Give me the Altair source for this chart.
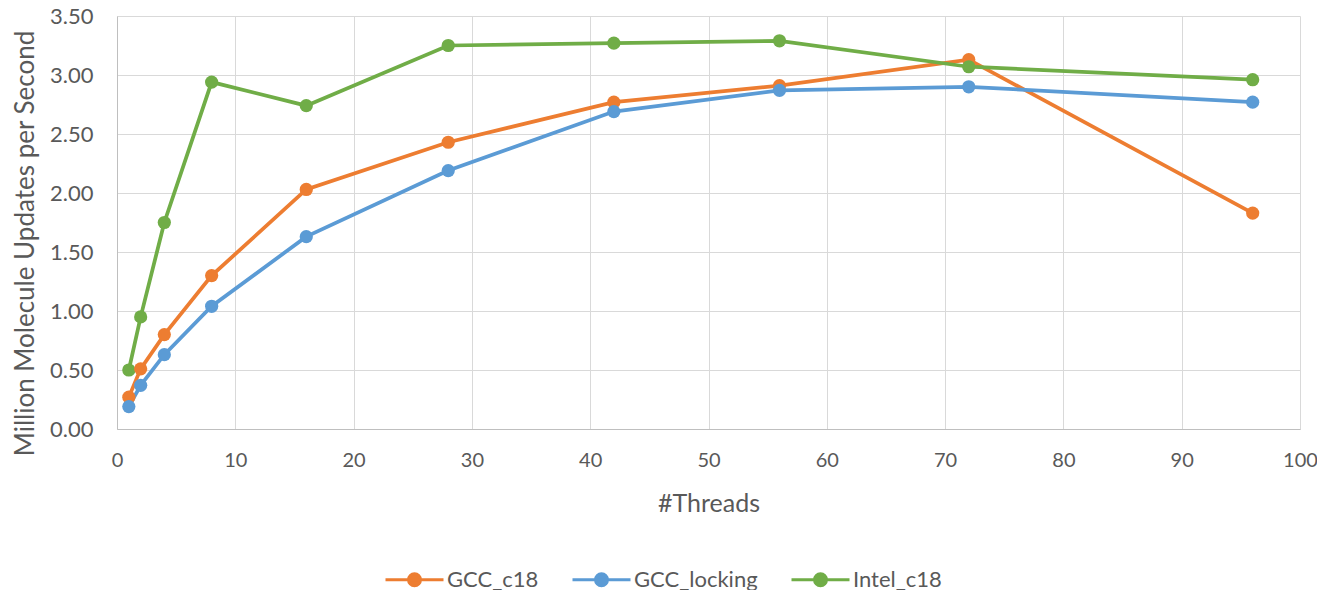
import altair as alt
import pandas as pd

threads = [1, 2, 4, 8, 16, 28, 42, 56, 72, 96]
gcc_c18 = [0.27, 0.51, 0.80, 1.30, 2.03, 2.43, 2.77, 2.91, 3.13, 1.83]
gcc_locking = [0.19, 0.37, 0.63, 1.04, 1.63, 2.19, 2.69, 2.87, 2.90, 2.77]
intel_c18 = [0.50, 0.95, 1.75, 2.94, 2.74, 3.25, 3.27, 3.29, 3.07, 2.96]

series = ["GCC_c18", "GCC_locking", "Intel_c18"]
colors = ["#ED7D31", "#5B9BD5", "#70AD47"]

rows = []
for name, vals in zip(series, [gcc_c18, gcc_locking, intel_c18]):
    for t, v in zip(threads, vals):
        rows.append({"Threads": t, "Value": v, "Series": name})
df = pd.DataFrame(rows)

font = "Lato"
grey = "#595959"

x = alt.X("Threads:Q", title="#Threads",
          scale=alt.Scale(domain=[0, 100], nice=False),
          axis=alt.Axis(values=list(range(0, 101, 10)), labelFontSize=20, titleFontSize=25,
                        labelColor=grey, titleColor=grey, ticks=False, labelPadding=21,
                        labelFlush=False, labelOverlap=False,
                        titlePadding=21, titleFontWeight="normal", domainColor="#bfbfbf",
                        gridColor="#d9d9d9", labelFont=font, titleFont=font))
y = alt.Y("Value:Q", title="Million Molecule Updates per Second",
          scale=alt.Scale(domain=[0, 3.5], nice=False),
          axis=alt.Axis(values=[0, 0.5, 1, 1.5, 2, 2.5, 3, 3.5], format=".2f", labelFontSize=22,
                        titleFontSize=26, labelColor=grey, titleColor=grey, ticks=False,
                        labelFlush=False, labelOverlap=False,
                        labelPadding=24, titleFontWeight="normal", titleX=-84, titleY=227,
                        titleBaseline="alphabetic", titleAngle=270,
                        domainColor="#bfbfbf", gridColor="#d9d9d9", labelFont=font, titleFont=font))
color = alt.Color("Series:N", scale=alt.Scale(domain=series, range=colors),
                  legend=alt.Legend(orient="none", direction="horizontal", title=None,
                                    legendX=267, legendY=533, padding=0,
                                    labelFontSize=22, labelColor=grey, labelFont=font,
                                    symbolType="M-1,0L1,0M-0.207,0a0.207,0.207 0 1,0 0.414,0a0.207,0.207 0 1,0 -0.414,0",
                                    symbolSize=3364, symbolStrokeWidth=3, columnPadding=27,
                                    labelOffset=2))

chart = alt.Chart(df).mark_line(strokeWidth=3.75, point=alt.OverlayMarkDef(filled=True, size=175, opacity=1)).encode(
    x=x, y=y, color=color, order="Threads:Q"
).properties(
    width=1183, height=413,
    autosize=alt.AutoSizeParams(type="none"),
    padding={"left": 109, "top": 8, "right": 17, "bottom": 180},
).configure_view(stroke=None)

chart.save("out.html", embed_options={"renderer": "svg", "actions": False})
